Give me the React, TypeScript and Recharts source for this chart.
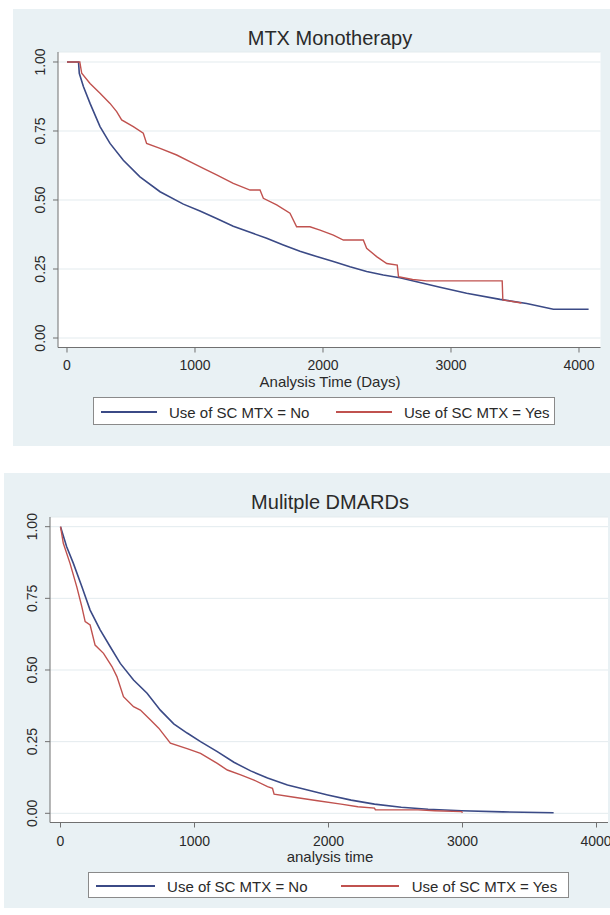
import { LineChart, Line, XAxis, YAxis, CartesianGrid } from "recharts";

const BLUE = "#3b4a86";
const RED = "#c0524f";
const PANEL_BG = "#e9f1f4";
const AXIS = "#707070";
const TEXT = "#2a2a2a";
const FONT = "'Liberation Sans', Arial, Helvetica, sans-serif";

const yTicks = [0, 0.25, 0.5, 0.75, 1];
const xTicks = [0, 1000, 2000, 3000, 4000];
const legendLabels = ["Use of SC MTX = No", "Use of SC MTX = Yes"];

// MTX monotherapy, SC MTX = No
const monoNoDays = [0, 90, 96, 128, 180, 258, 336, 440, 570, 727, 909, 1039, 1169, 1299, 1430, 1560, 1690, 1820, 1951, 2081, 2211, 2341, 2471, 2600, 2732, 2914, 3122, 3383, 3591, 3800, 4075];
const monoNoSurv = [1, 1, 0.959, 0.911, 0.85, 0.766, 0.705, 0.644, 0.584, 0.53, 0.485, 0.46, 0.433, 0.405, 0.383, 0.361, 0.337, 0.314, 0.295, 0.277, 0.258, 0.241, 0.228, 0.218, 0.204, 0.184, 0.162, 0.14, 0.125, 0.104, 0.104];

// MTX monotherapy, SC MTX = Yes
const monoYesDays = [0, 100, 115, 180, 258, 336, 388, 427, 518, 596, 622, 727, 857, 987, 1065, 1169, 1299, 1430, 1508, 1534, 1638, 1742, 1794, 1898, 1977, 2081, 2159, 2315, 2341, 2419, 2498, 2580, 2590, 2700, 2810, 3400, 3405, 3550];
const monoYesSurv = [1, 1, 0.959, 0.922, 0.887, 0.85, 0.82, 0.79, 0.766, 0.742, 0.705, 0.687, 0.663, 0.633, 0.615, 0.591, 0.56, 0.536, 0.536, 0.506, 0.482, 0.452, 0.403, 0.403, 0.391, 0.373, 0.355, 0.355, 0.325, 0.295, 0.27, 0.264, 0.222, 0.212, 0.207, 0.207, 0.138, 0.127];

// Multiple DMARDs, SC MTX = No
const multiNoDays = [0, 46, 96, 159, 221, 296, 371, 446, 545, 646, 745, 845, 945, 1045, 1170, 1294, 1419, 1545, 1694, 1844, 1994, 2169, 2343, 2543, 2743, 2993, 3300, 3680];
const multiNoSurv = [1, 0.93, 0.872, 0.791, 0.709, 0.64, 0.581, 0.523, 0.465, 0.419, 0.36, 0.312, 0.28, 0.25, 0.215, 0.178, 0.148, 0.123, 0.099, 0.081, 0.064, 0.046, 0.032, 0.021, 0.014, 0.009, 0.005, 0.002];

// Multiple DMARDs, SC MTX = Yes
const multiYesDays = [0, 21, 71, 121, 159, 184, 221, 258, 321, 384, 421, 470, 545, 596, 670, 733, 820, 950, 1045, 1170, 1245, 1345, 1444, 1545, 1582, 1594, 1744, 1919, 2094, 2219, 2343, 2350, 2668, 2793, 2993, 3000];
const multiYesSurv = [1, 0.942, 0.872, 0.791, 0.721, 0.669, 0.657, 0.587, 0.558, 0.512, 0.477, 0.407, 0.372, 0.36, 0.326, 0.297, 0.245, 0.225, 0.209, 0.174, 0.151, 0.134, 0.116, 0.093, 0.087, 0.067, 0.056, 0.044, 0.032, 0.023, 0.018, 0.012, 0.012, 0.009, 0.006, 0.002];

const toPoints = (days: number[], surv: number[]) =>
  days.map((t, i) => ({ t, s: surv[i] }));

const YTick = (props: any) => {
  const { x, y, payload } = props;
  const cx = x - 11;
  return (
    <text
      x={cx}
      y={y}
      transform={`rotate(-90 ${cx} ${y})`}
      textAnchor="middle"
      dominantBaseline="central"
      fontSize={14}
      fill={TEXT}
      fontFamily={FONT}
    >
      {Number(payload.value).toFixed(2)}
    </text>
  );
};

type PanelProps = {
  left: number;
  top: number;
  width: number;
  height: number;
  margin: { top: number; right: number; bottom: number; left: number };
  xDomain: [number, number];
  yDomain: [number, number];
  tickMargin: number;
  title: string;
  titleY: number;
  xLabel: string;
  xLabelY: number;
  legend: { left: number; top: number; width: number; height: number };
  noData: { t: number; s: number }[];
  yesData: { t: number; s: number }[];
};

function Legend({ box }: { box: PanelProps["legend"] }) {
  const k = box.width / 462;
  const item = (color: string, label: string, x: number) => (
    <div
      style={{
        position: "absolute",
        left: x * k,
        top: 0,
        height: box.height,
        display: "flex",
        alignItems: "center",
      }}
    >
      <div style={{ width: 56 * k, height: 2, background: color }} />
      <span style={{ marginLeft: 12 * k, whiteSpace: "nowrap" }}>{label}</span>
    </div>
  );
  return (
    <div
      style={{
        position: "absolute",
        left: box.left,
        top: box.top,
        width: box.width,
        height: box.height,
        boxSizing: "border-box",
        border: "1px solid #8a8a8a",
        background: "#fff",
        fontFamily: FONT,
        fontSize: 15,
        color: TEXT,
      }}
    >
      {item(BLUE, legendLabels[0], 7)}
      {item(RED, legendLabels[1], 242)}
    </div>
  );
}

function Panel(p: PanelProps) {
  const label = (text: string, cy: number, size: number) => (
    <div
      style={{
        position: "absolute",
        left: 0,
        width: p.width,
        top: cy - 12,
        height: 24,
        lineHeight: "24px",
        textAlign: "center",
        fontFamily: FONT,
        fontSize: size,
        color: TEXT,
        paddingLeft: 2 * (330 - p.left) - p.width,
        boxSizing: "border-box",
      }}
    >
      {text}
    </div>
  );
  return (
    <div
      style={{
        position: "absolute",
        left: p.left,
        top: p.top,
        width: p.width,
        height: p.height,
        background: PANEL_BG,
      }}
    >
      <LineChart width={p.width} height={p.height} margin={p.margin}>
        <CartesianGrid vertical={false} stroke="#e3ebee" fill="#ffffff" />
        <XAxis
          type="number"
          dataKey="t"
          domain={p.xDomain}
          ticks={xTicks}
          allowDataOverflow
          height={30}
          stroke={AXIS}
          tickSize={5}
          tickMargin={p.tickMargin}
          tick={{ fontSize: 14, fill: TEXT, fontFamily: FONT }}
        />
        <YAxis
          type="number"
          domain={p.yDomain}
          ticks={yTicks}
          allowDataOverflow
          width={40}
          stroke={AXIS}
          tickSize={5}
          tickMargin={2}
          tick={<YTick />}
        />
        <Line
          data={p.noData}
          dataKey="s"
          type="linear"
          stroke={BLUE}
          strokeWidth={1.6}
          dot={false}
          isAnimationActive={false}
        />
        <Line
          data={p.yesData}
          dataKey="s"
          type="linear"
          stroke={RED}
          strokeWidth={1.4}
          dot={false}
          isAnimationActive={false}
        />
      </LineChart>
      {label(p.title, p.titleY - p.top, 20)}
      {label(p.xLabel, p.xLabelY - p.top, 15)}
      <Legend
        box={{ ...p.legend, left: p.legend.left - p.left, top: p.legend.top - p.top }}
      />
    </div>
  );
}

export default function App() {
  return (
    <div
      style={{
        position: "absolute",
        left: 0,
        top: 0,
        width: 610,
        height: 915,
        overflow: "hidden",
        background: "#fff",
      }}
    >
      <Panel
        left={13}
        top={9}
        width={597}
        height={437}
        margin={{ top: 43, right: 9.5, bottom: 68.5, left: 5 }}
        xDomain={[-70.3, 4168]}
        yDomain={[-0.0344, 1.0362]}
        tickMargin={8}
        title="MTX Monotherapy"
        titleY={38}
        xLabel="Analysis Time (Days)"
        xLabelY={382}
        legend={{ left: 93, top: 397, width: 462, height: 28 }}
        noData={toPoints(monoNoDays, monoNoSurv)}
        yesData={toPoints(monoYesDays, monoYesSurv)}
      />
      <Panel
        left={4}
        top={473}
        width={606}
        height={435}
        margin={{ top: 44, right: 2, bottom: 55.5, left: 6 }}
        xDomain={[-78.4, 4085.8]}
        yDomain={[-0.0321, 1.0338]}
        tickMargin={9}
        title="Mulitple DMARDs"
        titleY={502}
        xLabel="analysis time"
        xLabelY={857}
        legend={{ left: 88, top: 872, width: 481, height: 26 }}
        noData={toPoints(multiNoDays, multiNoSurv)}
        yesData={toPoints(multiYesDays, multiYesSurv)}
      />
    </div>
  );
}
